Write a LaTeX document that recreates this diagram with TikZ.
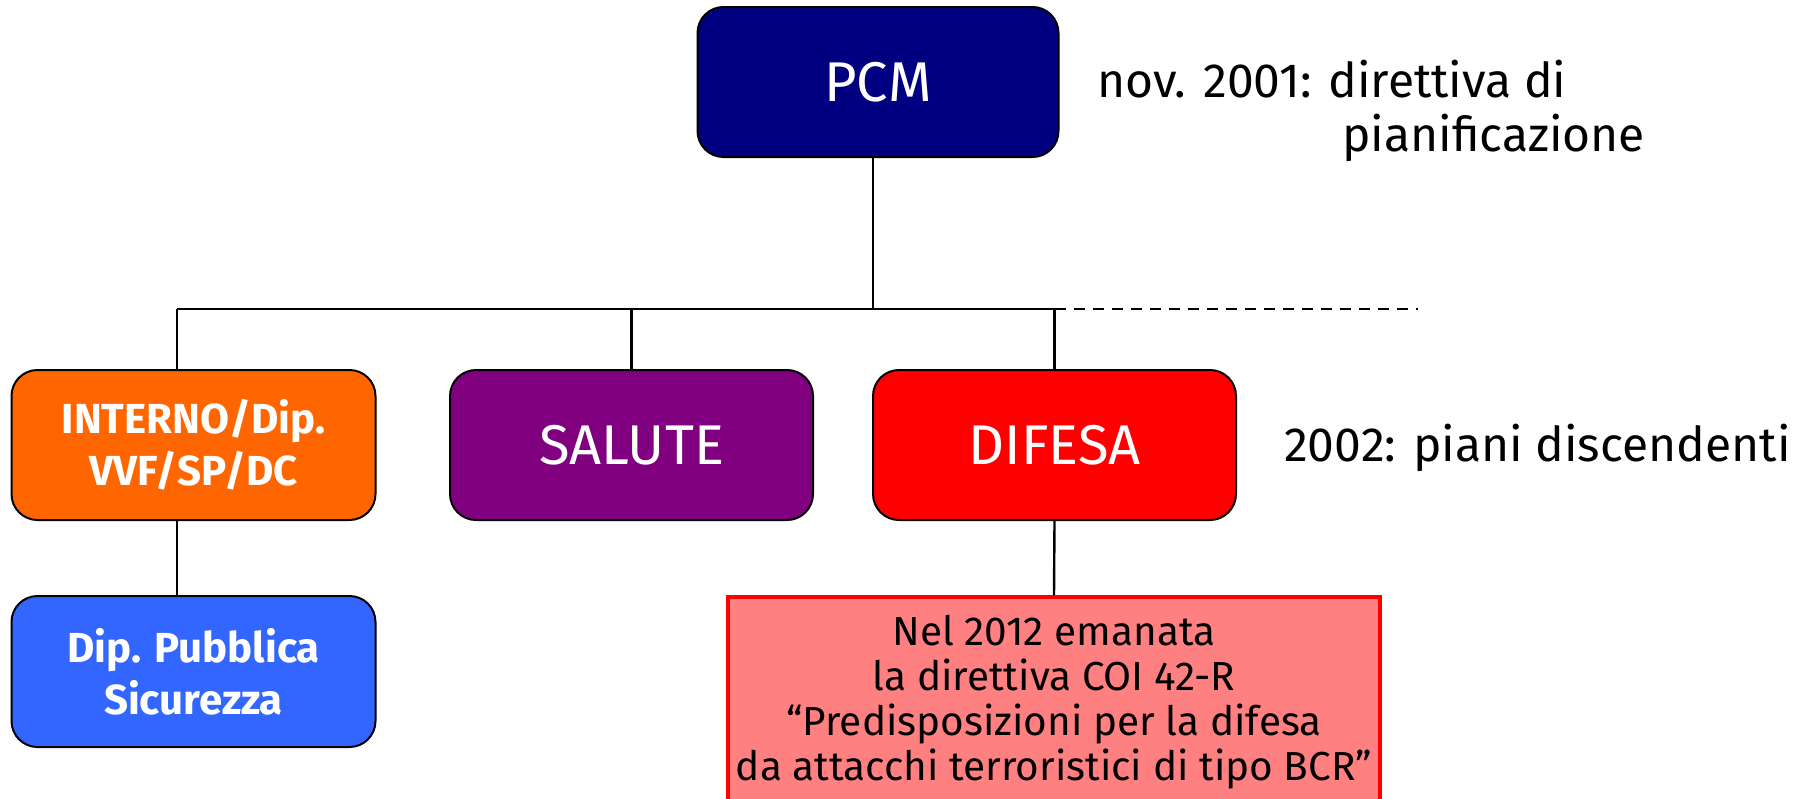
\documentclass[tikz,border=0pt]{standalone}
\usepackage{fontspec}
\setmainfont{Fira Sans}
\definecolor{pcmblue}{HTML}{000080}
\definecolor{intorange}{HTML}{FF6600}
\definecolor{salpurple}{HTML}{800080}
\definecolor{difred}{HTML}{FF0000}
\definecolor{psblue}{HTML}{3366FF}
\definecolor{notepink}{HTML}{FF8080}
\begin{document}
\begin{tikzpicture}[x=1pt,y=-1pt,
  orgbox/.style={draw=black, line width=2pt, rounded corners=26pt, inner sep=0pt,
    minimum height=150pt, text=white, align=center},
  biglabel/.style={font=\fontsize{56}{60}\selectfont},
  boldlabel/.style={font=\fontsize{42}{52}\selectfont\bfseries},
  sidelabel/.style={font=\fontsize{48}{58}\selectfont, inner sep=0pt},
  notebox/.style={draw=difred, fill=notepink, line width=4pt, inner sep=0pt,
    align=center, font=\fontsize{40.5}{45}\selectfont},
  conn/.style={draw=black, line width=2.4pt}]
\useasboundingbox (0,0) rectangle (1801,798);
% boxes
\node[orgbox, fill=pcmblue, minimum width=361pt, biglabel] (pcm) at (878,82) {PCM};
\node[orgbox, fill=intorange, minimum width=364pt, boldlabel] (interno) at (193.5,445) {INTERNO/Dip.\\VVF/SP/DC};
\node[orgbox, fill=salpurple, minimum width=363pt, biglabel] (salute) at (631.5,445) {SALUTE};
\node[orgbox, fill=difred, minimum width=363pt, biglabel] (difesa) at (1054.5,445) {DIFESA};
\node[orgbox, fill=psblue, minimum width=364pt, minimum height=151pt, boldlabel] (ps) at (193.5,671.5) {Dip. Pubblica\\Sicurezza};
\node[notebox, minimum width=652pt, minimum height=210pt] (note) at (1054,702)
  {Nel 2012 emanata\\ la direttiva COI 42-R\\ “Predisposizioni per la difesa\\ da attacchi terroristici di tipo BCR”};
% side labels
\node[sidelabel, anchor=base west] (lab1) at (1097,97) {nov. 2001: direttiva di};
\node[sidelabel, anchor=base west] (lab2) at (1342,151) {pianificazione};
\node[sidelabel, anchor=base west] (lab3) at (1284,461) {2002: piani discendenti};
% connectors
\coordinate (top) at (873,309);
\coordinate (hl) at (177,309);
\coordinate (hm) at (631.5,309);
\coordinate (hr) at (1054.5,309);
\coordinate (dashend) at (1418,309);
\draw[conn] (pcm.south -| top) -- (top);
\draw[conn] (hl) -- (hr);
\draw[conn, dash pattern=on 11pt off 8pt] (hr) -- (dashend);
\draw[conn] (hl) -- (hl |- interno.north);
\draw[conn] (hm) -- (salute.north);
\draw[conn] (hr) -- (difesa.north);
\draw[conn] (interno.south -| hl) -- (ps.north -| hl);
\draw[conn] (difesa.south) -- (note.north);
\end{tikzpicture}
\end{document}
